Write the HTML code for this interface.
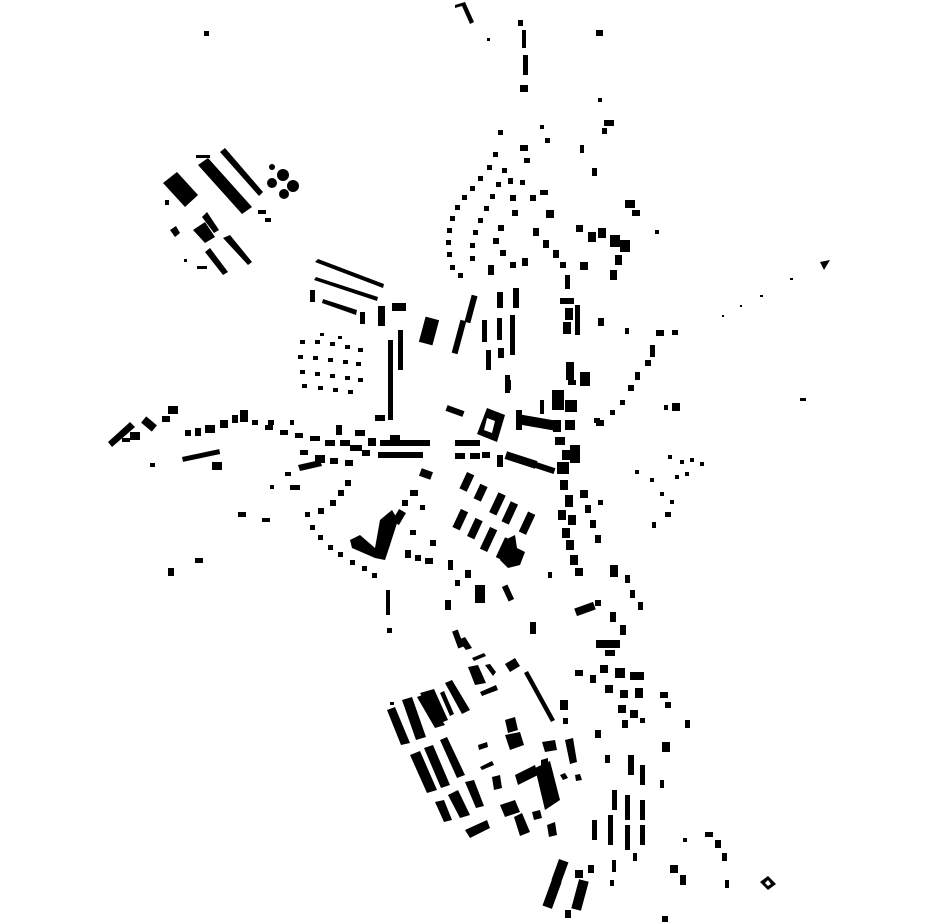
<!DOCTYPE html>
<html><head><meta charset="utf-8"><style>html,body{margin:0;padding:0;background:#fff}svg{display:block}</style></head>
<body>
<svg width="930" height="924" viewBox="0 0 930 924" xmlns="http://www.w3.org/2000/svg" fill="#000">
<!-- top-left industrial -->
<polygon points="163,183 177,172 198,195 185,207"/>
<polygon points="220,152 225,148 263,192 259,196"/>
<polygon points="198,165 208,158 252,207 242,214"/>
<circle cx="272" cy="167" r="3"/><circle cx="283" cy="175" r="6"/><circle cx="272" cy="183" r="5"/><circle cx="293" cy="186" r="6"/><circle cx="284" cy="194" r="5"/>
<polygon points="193,230 205,222 215,237 205,243"/>
<polygon points="202,217 207,212 219,230 214,233"/>
<polygon points="205,252 210,248 228,272 223,275"/>
<polygon points="223,238 230,235 252,262 248,265"/>
<polygon points="170,230 176,226 180,233 175,237"/>
<rect x="196" y="155" width="14" height="3"/><rect x="165" y="200" width="4" height="5"/><rect x="258" y="210" width="8" height="4"/><rect x="265" y="218" width="6" height="4"/><rect x="197" y="266" width="10" height="3"/><rect x="184" y="259" width="3" height="3"/>
<rect x="204" y="31" width="5" height="5"/>
<!-- bars near 315,262 -->
<polygon points="315,262 318,259 384,284 383,288"/>
<polygon points="314,280 316,277 378,297 377,301"/>
<polygon points="322,303 323,299 357,310 356,315"/>
<rect x="310" y="290" width="5" height="12"/><rect x="360" y="312" width="5" height="12"/><rect x="378" y="306" width="7" height="20"/><rect x="392" y="303" width="14" height="8"/><rect x="422" y="318" width="14" height="26" transform="rotate(15 429 331)"/>
<!-- grid of dots -->
<g>
<rect x="300" y="340" width="5" height="4"/><rect x="315" y="340" width="5" height="4"/><rect x="330" y="342" width="5" height="4"/><rect x="345" y="345" width="5" height="4"/><rect x="358" y="348" width="5" height="4"/>
<rect x="298" y="355" width="5" height="4"/><rect x="313" y="356" width="5" height="4"/><rect x="328" y="358" width="5" height="4"/><rect x="343" y="360" width="5" height="4"/><rect x="356" y="362" width="5" height="4"/>
<rect x="300" y="370" width="5" height="4"/><rect x="315" y="372" width="5" height="4"/><rect x="330" y="374" width="5" height="4"/><rect x="345" y="376" width="5" height="4"/><rect x="358" y="378" width="5" height="4"/>
<rect x="302" y="384" width="5" height="4"/><rect x="318" y="386" width="5" height="4"/><rect x="333" y="388" width="5" height="4"/><rect x="348" y="390" width="5" height="4"/>
<rect x="320" y="333" width="4" height="3"/><rect x="338" y="336" width="4" height="3"/>
</g>
<rect x="388" y="340" width="5" height="80"/><rect x="398" y="330" width="5" height="40"/>
<!-- north road -->
<polygon points="455,5 465,2 474,22 470,24 462,6 455,8"/>
<rect x="518" y="20" width="5" height="6"/><rect x="522" y="30" width="4" height="18"/><rect x="523" y="55" width="5" height="20"/><rect x="520" y="85" width="8" height="7"/><rect x="596" y="30" width="7" height="6"/><rect x="487" y="38" width="3" height="3"/>
<rect x="598" y="98" width="4" height="4"/><rect x="604" y="120" width="10" height="6"/><rect x="602" y="128" width="5" height="6"/><rect x="540" y="125" width="4" height="4"/><rect x="545" y="138" width="5" height="5"/>
<rect x="498" y="130" width="5" height="5"/><rect x="520" y="145" width="8" height="6"/><rect x="524" y="158" width="6" height="5"/><rect x="580" y="145" width="4" height="8"/>
<!-- north residential arcs -->
<g>
<rect x="493" y="152" width="5" height="5"/><rect x="487" y="165" width="5" height="5"/><rect x="478" y="176" width="5" height="5"/><rect x="470" y="186" width="5" height="5"/><rect x="462" y="195" width="5" height="5"/><rect x="455" y="205" width="5" height="5"/><rect x="450" y="216" width="5" height="5"/><rect x="447" y="228" width="5" height="5"/><rect x="446" y="240" width="5" height="5"/><rect x="447" y="252" width="5" height="5"/><rect x="450" y="265" width="5" height="5"/><rect x="458" y="273" width="5" height="5"/>
<rect x="502" y="168" width="5" height="5"/><rect x="496" y="182" width="5" height="5"/><rect x="490" y="194" width="5" height="5"/><rect x="484" y="206" width="5" height="5"/><rect x="478" y="218" width="5" height="5"/><rect x="473" y="230" width="5" height="5"/><rect x="470" y="243" width="5" height="5"/><rect x="470" y="256" width="5" height="5"/><rect x="488" y="265" width="6" height="10"/>
<rect x="508" y="178" width="5" height="6"/><rect x="510" y="195" width="6" height="6"/><rect x="512" y="210" width="6" height="6"/><rect x="498" y="225" width="6" height="6"/><rect x="493" y="238" width="6" height="6"/><rect x="500" y="250" width="6" height="6"/><rect x="510" y="262" width="6" height="6"/><rect x="522" y="258" width="6" height="8"/>
<rect x="520" y="180" width="5" height="5"/><rect x="530" y="195" width="6" height="6"/><rect x="540" y="190" width="8" height="5"/><rect x="546" y="210" width="8" height="8"/><rect x="533" y="228" width="6" height="8"/><rect x="543" y="240" width="6" height="8"/><rect x="553" y="250" width="6" height="8"/><rect x="560" y="262" width="6" height="6"/>
<rect x="576" y="225" width="7" height="7"/><rect x="588" y="232" width="8" height="10"/><rect x="598" y="228" width="8" height="10"/><rect x="610" y="235" width="10" height="12"/><rect x="620" y="240" width="10" height="12"/><rect x="615" y="255" width="7" height="10"/><rect x="610" y="270" width="7" height="10"/><rect x="625" y="200" width="10" height="8"/><rect x="632" y="210" width="8" height="6"/><rect x="655" y="230" width="4" height="4"/><rect x="592" y="168" width="5" height="8"/>
<rect x="580" y="262" width="8" height="8"/><rect x="565" y="275" width="5" height="14"/><rect x="560" y="298" width="14" height="6"/><rect x="565" y="308" width="8" height="12"/><rect x="575" y="305" width="5" height="30"/><rect x="563" y="322" width="8" height="12"/><rect x="598" y="318" width="6" height="8"/>
</g>
<!-- long bars north of centre -->
<rect x="468" y="295" width="6" height="28" transform="rotate(15 471 309)"/>
<rect x="456" y="320" width="6" height="34" transform="rotate(15 459 337)"/>
<rect x="497" y="292" width="6" height="16"/><rect x="513" y="288" width="6" height="20"/><rect x="482" y="320" width="5" height="22"/><rect x="497" y="318" width="5" height="22"/><rect x="510" y="315" width="5" height="40"/><rect x="486" y="350" width="5" height="20"/><rect x="498" y="348" width="6" height="10"/><rect x="505" y="375" width="5" height="18"/>
<!-- east line of dots -->
<rect x="656" y="330" width="8" height="6"/><rect x="650" y="345" width="5" height="12"/><rect x="645" y="360" width="6" height="6"/><rect x="635" y="372" width="5" height="8"/><rect x="628" y="385" width="6" height="6"/><rect x="620" y="400" width="5" height="5"/><rect x="610" y="410" width="5" height="5"/><rect x="596" y="420" width="8" height="6"/><rect x="672" y="330" width="6" height="5"/><rect x="664" y="405" width="4" height="5"/><rect x="672" y="403" width="8" height="8"/><rect x="800" y="398" width="6" height="3"/>
<polygon points="820,262 830,260 824,270"/>
<rect x="790" y="278" width="3" height="2"/><rect x="760" y="295" width="3" height="2"/><rect x="740" y="305" width="2" height="2"/><rect x="722" y="315" width="2" height="2"/>
<rect x="625" y="328" width="4" height="6"/>
<!-- centre -->
<path d="M487 408 L505 415 L497 442 L477 434 Z M487 418 L484 430 L492 433 L495 421 Z" fill-rule="evenodd"/>
<rect x="446" y="408" width="18" height="6" transform="rotate(20 455 411)"/>
<rect x="516" y="410" width="6" height="20"/><rect x="520" y="418" width="40" height="10" transform="rotate(10 540 423)"/><rect x="552" y="390" width="12" height="20"/><rect x="565" y="400" width="12" height="12"/><rect x="565" y="420" width="10" height="10"/><rect x="540" y="400" width="4" height="14"/><rect x="553" y="420" width="8" height="12"/>
<rect x="505" y="380" width="6" height="10"/><rect x="568" y="380" width="8" height="5"/><rect x="580" y="372" width="10" height="14"/><rect x="566" y="362" width="8" height="18"/><rect x="594" y="418" width="6" height="5"/>
<rect x="555" y="437" width="10" height="8"/><rect x="562" y="450" width="10" height="10"/><rect x="557" y="462" width="12" height="12"/><rect x="570" y="445" width="10" height="18"/>
<rect x="505" y="456" width="32" height="8" transform="rotate(18 521 460)"/><rect x="535" y="465" width="20" height="6" transform="rotate(18 545 468)"/><rect x="497" y="455" width="6" height="12"/>
<rect x="455" y="440" width="25" height="6"/><rect x="455" y="453" width="10" height="6"/><rect x="470" y="453" width="10" height="6"/><rect x="482" y="452" width="8" height="6"/>
<!-- west road -->
<rect x="380" y="440" width="50" height="6"/><rect x="378" y="452" width="45" height="6"/><rect x="390" y="435" width="10" height="5"/><rect x="375" y="415" width="10" height="6"/><rect x="368" y="438" width="8" height="8"/>
<rect x="265" y="425" width="8" height="5"/><rect x="280" y="430" width="8" height="5"/><rect x="295" y="433" width="8" height="5"/><rect x="310" y="436" width="10" height="5"/><rect x="325" y="440" width="10" height="6"/><rect x="340" y="440" width="10" height="6"/><rect x="350" y="445" width="12" height="6"/><rect x="362" y="450" width="8" height="6"/>
<rect x="300" y="450" width="8" height="5"/><rect x="315" y="455" width="10" height="8"/><rect x="330" y="458" width="8" height="6"/><rect x="345" y="460" width="8" height="6"/>
<rect x="268" y="420" width="6" height="5"/><rect x="290" y="420" width="4" height="5"/><rect x="336" y="425" width="6" height="10"/><rect x="355" y="430" width="10" height="6"/>
<rect x="185" y="430" width="6" height="6"/><rect x="195" y="428" width="6" height="8"/><rect x="205" y="425" width="10" height="8"/><rect x="220" y="420" width="8" height="8"/><rect x="232" y="415" width="6" height="8"/><rect x="240" y="410" width="8" height="12"/><rect x="252" y="420" width="6" height="5"/>
<rect x="182" y="453" width="38" height="5" transform="rotate(-12 201 455)"/><rect x="212" y="462" width="10" height="8"/><rect x="150" y="463" width="5" height="4"/>
<polygon points="108,442 130,422 135,427 112,447"/><rect x="130" y="432" width="10" height="8"/><rect x="142" y="420" width="14" height="8" transform="rotate(40 149 424)"/><rect x="168" y="406" width="10" height="8"/><rect x="162" y="416" width="8" height="6"/><rect x="122" y="438" width="8" height="4"/>
<polygon points="298,465 320,460 322,466 300,471"/><rect x="290" y="485" width="10" height="5"/><rect x="285" y="472" width="6" height="4"/>
<!-- west arc downwards -->
<rect x="345" y="480" width="6" height="6"/><rect x="338" y="490" width="6" height="6"/><rect x="330" y="500" width="6" height="6"/><rect x="318" y="508" width="6" height="6"/><rect x="305" y="512" width="5" height="5"/><rect x="310" y="525" width="5" height="5"/><rect x="318" y="535" width="5" height="5"/><rect x="328" y="545" width="5" height="5"/><rect x="338" y="552" width="5" height="5"/><rect x="350" y="560" width="5" height="5"/><rect x="362" y="566" width="5" height="5"/><rect x="372" y="573" width="5" height="5"/>
<rect x="238" y="512" width="8" height="5"/><rect x="262" y="518" width="8" height="4"/><rect x="270" y="485" width="4" height="4"/>
<rect x="168" y="568" width="6" height="8"/><rect x="195" y="558" width="8" height="5"/>
<rect x="386" y="590" width="4" height="25"/><rect x="387" y="628" width="5" height="5"/>
<!-- L-shaped building -->
<polygon points="350,540 360,535 375,548 380,520 392,510 398,520 390,545 385,560 375,558 352,548"/>
<rect x="395" y="510" width="8" height="14" transform="rotate(30 399 517)"/>
<rect x="405" y="550" width="6" height="8"/><rect x="415" y="555" width="6" height="6"/><rect x="425" y="558" width="8" height="6"/><rect x="430" y="540" width="6" height="6"/><rect x="410" y="530" width="6" height="5"/>
<rect x="420" y="470" width="12" height="8" transform="rotate(20 426 474)"/><rect x="410" y="490" width="8" height="6"/><rect x="402" y="500" width="6" height="6"/><rect x="420" y="505" width="5" height="5"/>
<!-- south-centre bars -->
<g transform="rotate(25 480 520)">
<rect x="448" y="482" width="8" height="18"/><rect x="465" y="487" width="8" height="16"/><rect x="485" y="487" width="8" height="22"/><rect x="500" y="490" width="8" height="22"/><rect x="520" y="492" width="8" height="22"/>
<rect x="458" y="518" width="8" height="20"/><rect x="475" y="520" width="8" height="20"/><rect x="492" y="522" width="8" height="24"/><rect x="510" y="525" width="8" height="22"/>
</g>
<polygon points="505,540 515,535 517,548 525,552 520,565 508,568 500,560"/>
<rect x="448" y="560" width="5" height="10"/><rect x="455" y="580" width="5" height="6"/><rect x="475" y="585" width="10" height="18"/><rect x="505" y="585" width="6" height="16" transform="rotate(-25 508 593)"/><rect x="445" y="600" width="6" height="10"/><rect x="465" y="570" width="6" height="8"/>
<rect x="455" y="630" width="6" height="18" transform="rotate(-20 458 639)"/><rect x="530" y="622" width="6" height="12"/><rect x="548" y="572" width="4" height="6"/>
<!-- east of centre column -->
<rect x="560" y="480" width="8" height="10"/><rect x="565" y="495" width="8" height="12"/><rect x="558" y="510" width="8" height="10"/><rect x="568" y="515" width="8" height="10"/><rect x="562" y="528" width="8" height="10"/><rect x="566" y="540" width="8" height="10"/><rect x="570" y="555" width="8" height="10"/><rect x="575" y="568" width="8" height="8"/><rect x="580" y="490" width="8" height="8"/><rect x="585" y="505" width="6" height="8"/><rect x="590" y="520" width="6" height="8"/><rect x="595" y="535" width="6" height="8"/><rect x="598" y="500" width="5" height="5"/>
<rect x="610" y="565" width="8" height="12"/><rect x="625" y="575" width="5" height="8"/><rect x="630" y="590" width="5" height="8"/><rect x="638" y="602" width="5" height="8"/>
<rect x="635" y="470" width="4" height="4"/><rect x="650" y="478" width="4" height="4"/><rect x="668" y="455" width="4" height="4"/><rect x="680" y="460" width="4" height="4"/><rect x="690" y="458" width="4" height="4"/><rect x="700" y="462" width="4" height="4"/><rect x="675" y="475" width="4" height="4"/><rect x="685" y="472" width="4" height="4"/><rect x="660" y="492" width="4" height="4"/><rect x="670" y="500" width="4" height="4"/><rect x="665" y="512" width="6" height="5"/><rect x="652" y="522" width="4" height="6"/>
<!-- south-east zone -->
<rect x="575" y="605" width="20" height="8" transform="rotate(-20 585 609)"/><rect x="595" y="600" width="6" height="6"/><rect x="610" y="612" width="6" height="10"/><rect x="620" y="625" width="6" height="10"/><rect x="596" y="640" width="24" height="8"/><rect x="605" y="650" width="10" height="6"/>
<rect x="575" y="670" width="8" height="6"/><rect x="590" y="675" width="6" height="8"/><rect x="600" y="665" width="8" height="8"/><rect x="615" y="668" width="10" height="10"/><rect x="630" y="672" width="14" height="8"/><rect x="605" y="685" width="8" height="8"/><rect x="620" y="690" width="8" height="8"/><rect x="635" y="688" width="8" height="10"/><rect x="618" y="705" width="8" height="8"/><rect x="630" y="710" width="8" height="8"/><rect x="622" y="720" width="6" height="8"/><rect x="640" y="718" width="5" height="5"/><rect x="660" y="692" width="8" height="6"/><rect x="665" y="702" width="6" height="6"/><rect x="685" y="720" width="5" height="8"/><rect x="662" y="742" width="8" height="10"/><rect x="595" y="730" width="6" height="8"/><rect x="605" y="755" width="5" height="8"/><rect x="560" y="700" width="8" height="10"/><rect x="563" y="718" width="5" height="6"/>
<rect x="628" y="755" width="6" height="20"/><rect x="640" y="765" width="5" height="20"/><rect x="660" y="780" width="4" height="8"/><rect x="612" y="790" width="5" height="20"/><rect x="625" y="795" width="5" height="25"/><rect x="640" y="800" width="5" height="20"/><rect x="592" y="820" width="5" height="20"/><rect x="608" y="815" width="5" height="30"/><rect x="625" y="825" width="5" height="25"/><rect x="640" y="825" width="5" height="20"/><rect x="612" y="860" width="4" height="12"/><rect x="633" y="853" width="4" height="8"/><rect x="610" y="880" width="4" height="6"/>
<rect x="705" y="832" width="8" height="5"/><rect x="715" y="840" width="6" height="8"/><rect x="722" y="853" width="5" height="8"/><rect x="670" y="865" width="8" height="8"/><rect x="680" y="875" width="6" height="10"/><rect x="725" y="880" width="4" height="8"/><rect x="683" y="838" width="4" height="4"/><rect x="662" y="916" width="6" height="6"/>
<path d="M760 882 L768 876 L776 884 L768 890 Z M765 883 L768 880 L771 884 L768 886 Z" fill-rule="evenodd"/>
<rect x="555" y="860" width="10" height="22" transform="rotate(20 560 871)"/><rect x="547" y="880" width="10" height="28" transform="rotate(20 552 894)"/><rect x="575" y="880" width="10" height="30" transform="rotate(15 580 895)"/><rect x="575" y="870" width="8" height="8"/><rect x="588" y="865" width="6" height="8"/><rect x="565" y="910" width="6" height="8"/>
<!-- south-west block cluster -->
<g>
<polygon points="458,640 465,637 472,648 466,650"/>
<polygon points="472,658 484,653 486,656 474,661"/>
<polygon points="468,667 478,665 486,683 475,685"/>
<polygon points="485,665 490,664 496,672 493,676"/>
<polygon points="505,664 515,658 520,666 510,672"/>
<polygon points="480,692 496,685 498,690 482,696"/>
<polygon points="524,673 528,671 555,720 551,722"/>
<polygon points="445,683 452,680 470,710 462,714"/>
<polygon points="440,693 444,691 454,714 450,716"/>
<polygon points="420,693 434,689 448,720 438,724"/>
<polygon points="417,697 425,694 445,725 435,728"/>
<polygon points="402,700 412,697 426,737 416,740"/>
<polygon points="387,710 395,707 410,743 401,745"/>
<polygon points="410,755 420,751 437,790 427,793"/>
<polygon points="424,748 433,745 450,785 441,788"/>
<polygon points="440,740 447,737 465,775 457,778"/>
<polygon points="435,802 444,800 452,820 444,822"/>
<polygon points="448,795 458,790 470,815 460,818"/>
<polygon points="465,782 474,780 484,806 476,808"/>
<polygon points="465,830 487,820 490,828 470,838"/>
<polygon points="505,720 515,717 518,730 508,733"/>
<polygon points="505,735 520,732 524,745 510,750"/>
<polygon points="478,745 487,742 488,747 479,750"/>
<polygon points="480,767 492,761 494,765 482,770"/>
<polygon points="492,777 500,775 502,788 494,790"/>
<polygon points="515,775 535,765 538,775 518,785"/>
<polygon points="535,768 550,761 560,800 545,810"/>
<polygon points="541,760 548,758 548,775 541,778"/>
<polygon points="542,742 555,740 557,750 545,752"/>
<polygon points="565,740 573,738 577,762 570,764"/>
<polygon points="560,775 565,773 568,778 563,780"/>
<polygon points="500,805 515,800 520,812 505,817"/>
<polygon points="514,817 522,813 530,832 520,836"/>
<polygon points="532,812 540,810 542,818 534,820"/>
<polygon points="547,825 555,822 557,835 549,837"/>
<polygon points="575,775 580,774 582,780 576,781"/>
<rect x="390" y="702" width="4" height="3"/>
</g>
</svg>
</body></html>
